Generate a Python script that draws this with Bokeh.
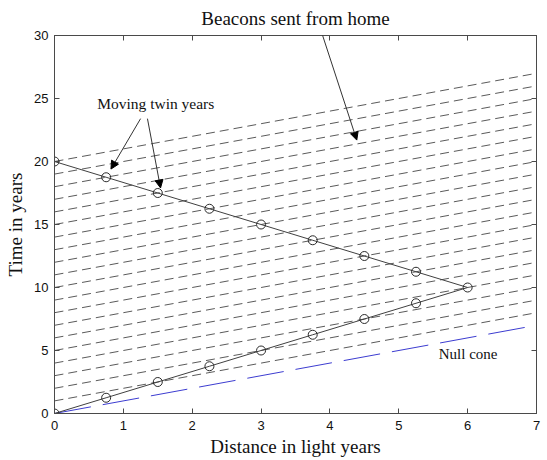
from bokeh.plotting import figure
from bokeh.models import (Range1d, LinearAxis, Label, Arrow, NormalHead, FixedTicker,
                          Title, CustomLabelingPolicy)
from bokeh.embed import file_html
from bokeh.resources import INLINE

# ---- data ----
x_ticks = [0, 1, 2, 3, 4, 5, 6, 7]
y_ticks = [0, 5, 10, 15, 20, 25, 30]

# beacons sent from home: emission time at x=0 and arrival time at x=7
beacon_t_at_0 = [1, 2, 3, 4, 5, 6, 7, 8, 9, 10, 11, 12, 13, 14, 15, 16, 17, 18, 19, 20]
beacon_t_at_7 = [8, 9, 10, 11, 12, 13, 14, 15, 16, 17, 18, 19, 20, 21, 22, 23, 24, 25, 26, 27]
beacon_x_start = 0
beacon_x_end = 7

# moving twin world line, one marker per twin year
twin_x = [0, 0.75, 1.5, 2.25, 3.0, 3.75, 4.5, 5.25, 6.0,
          5.25, 4.5, 3.75, 3.0, 2.25, 1.5, 0.75, 0]
twin_t = [0, 1.25, 2.5, 3.75, 5.0, 6.25, 7.5, 8.75, 10.0,
          11.25, 12.5, 13.75, 15.0, 16.25, 17.5, 18.75, 20.0]

# null cone
null_x = [0, 7]
null_t = [0, 7]

SERIF = "Liberation Serif"
SANS = "Liberation Sans"
AX = "#4a4a4a"

p = figure(width=547, height=460,
           x_range=Range1d(0, 7), y_range=Range1d(0, 30),
           output_backend="svg", toolbar_location=None,
           min_border_left=54, min_border_right=11,
           min_border_top=35, min_border_bottom=47)

p.xgrid.visible = False
p.ygrid.visible = False
p.outline_line_color = AX
p.background_fill_color = "white"
p.border_fill_color = "white"

# beacons
p.segment(x0=beacon_x_start, y0=beacon_t_at_0, x1=beacon_x_end, y1=beacon_t_at_7,
          line_color="#5a5a5a", line_width=1, line_dash="9 5")

# null cone
p.line(null_x, null_t, line_color="#3c3cd0", line_width=1, line_dash="37 12")

# twin world line
p.line(twin_x, twin_t, line_color="#404040", line_width=1)
p.scatter(twin_x, twin_t, marker="circle", size=9, fill_color=None,
          line_color="#2a2a2a", line_width=1)


def style_axis(ax, show_labels=True):
    ax.axis_line_color = AX
    ax.major_tick_line_color = AX
    ax.minor_tick_line_color = None
    ax.major_tick_in = 5
    ax.major_tick_out = 0
    if show_labels:
        ax.major_label_text_font = SANS
        ax.major_label_text_font_size = "13px"
        ax.major_label_text_color = "#111111"
        ax.major_label_standoff = 6
    else:
        ax.major_label_text_font_size = "1px"
        ax.major_label_standoff = 0
        ax.major_label_policy = CustomLabelingPolicy(
            code="for (const i of indices) { if (i < 0) { yield i } }")


p.xaxis.ticker = FixedTicker(ticks=x_ticks)
p.yaxis.ticker = FixedTicker(ticks=y_ticks)
style_axis(p.xaxis[0])
style_axis(p.yaxis[0])
p.xaxis.axis_label = "Distance in light years"
p.yaxis.axis_label = "Time in years"
for ax in (p.xaxis[0], p.yaxis[0]):
    ax.axis_label_text_font = SERIF
    ax.axis_label_text_font_size = "19px"
    ax.axis_label_text_font_style = "normal"
    ax.axis_label_text_color = "#111111"
p.xaxis.axis_label_standoff = 3
p.yaxis.axis_label_standoff = 5
p.xaxis.major_label_standoff = 7

top = LinearAxis(ticker=FixedTicker(ticks=x_ticks))
style_axis(top, show_labels=False)
p.add_layout(top, "above")
right = LinearAxis(ticker=FixedTicker(ticks=y_ticks))
style_axis(right, show_labels=False)
p.add_layout(right, "right")

# heading above the frame
p.add_layout(Title(text="Beacons sent from home", align="center",
                   text_font=SERIF, text_font_size="19px", text_font_style="normal",
                   text_color="#111111", standoff=6, offset=0), "above")

# annotations
p.add_layout(Label(x=0.62, y=24.6, text="Moving twin years",
                   text_font=SERIF, text_font_size="15.5px",
                   text_align="left", text_baseline="middle", text_color="#111111"))
p.add_layout(Label(x=5.58, y=4.76, text="Null cone",
                   text_font=SERIF, text_font_size="15px",
                   text_align="left", text_baseline="middle", text_color="#111111"))

for xs, ys, xe, ye in [(3.87, 30.4, 4.39, 21.7),
                       (1.25, 23.4, 0.82, 19.4),
                       (1.35, 23.4, 1.54, 17.9)]:
    p.add_layout(Arrow(end=NormalHead(size=8, fill_color="black", line_color="black"),
                       x_start=xs, y_start=ys, x_end=xe, y_end=ye,
                       line_color="#333333", line_width=1))

open("out.html", "w").write(file_html(p, INLINE))
